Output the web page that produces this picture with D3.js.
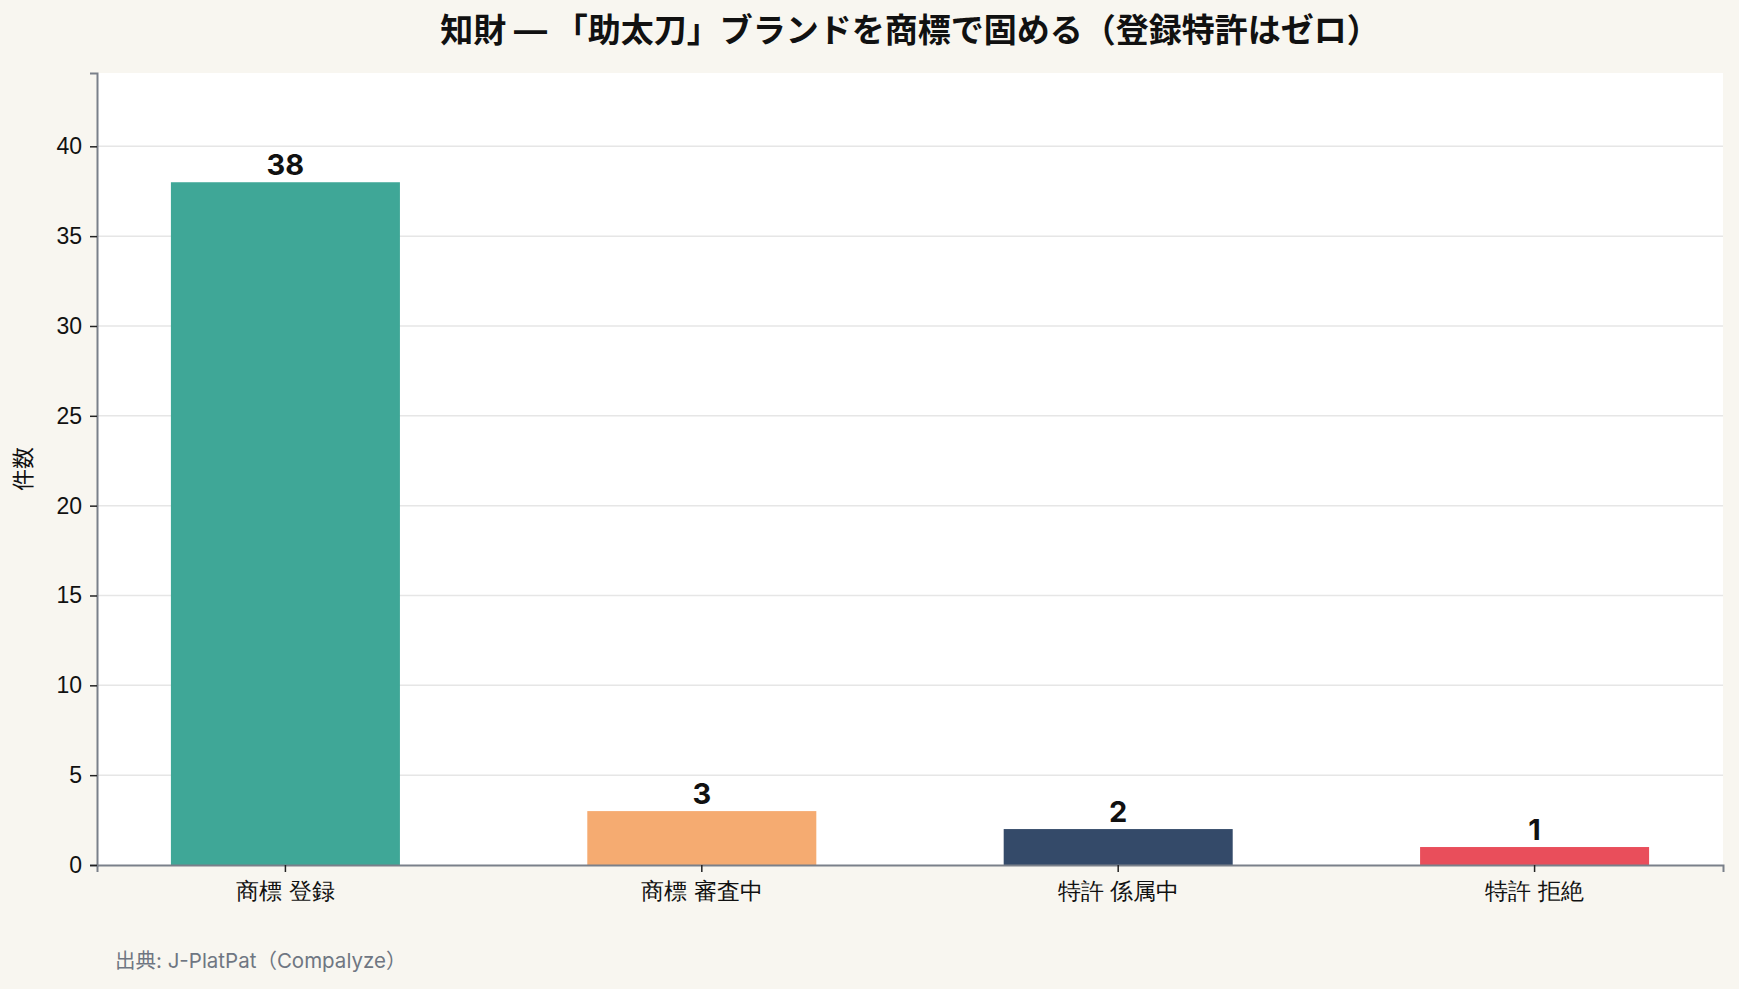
<!DOCTYPE html>
<html>
<head>
<meta charset="utf-8">
<script src="https://cdn.jsdelivr.net/npm/d3@7"></script>
<style>
  body { margin: 0; background: #f8f6f0; }
  svg { display: block; font-family: "Inter", "Noto Sans CJK JP", sans-serif; }
</style>
</head>
<body>
<div id="container"></div>
<script>
/* DATA */
const categories = ["商標 登録", "商標 審査中", "特許 係属中", "特許 拒絶"]
const counts = [38, 3, 2, 1]
const barColors = ["#3fa797", "#f5ab71", "#344a69", "#e94e5b"]
const yTicks = [0, 5, 10, 15, 20, 25, 30, 35, 40]

const title = "知財 — 「助太刀」ブランドを商標で固める（登録特許はゼロ）"
const yLabel = "件数"
const source = "出典: J-PlatPat（Compalyze）"

/* CONSTANTS */
const width = 1739,
  height = 989,
  margin = { top: 73, bottom: 124, left: 97, right: 16 }

const svg = d3.select("#container")
  .append("svg")
  .attr("width", width)
  .attr("height", height)

svg.append("rect")
  .attr("width", width)
  .attr("height", height)
  .attr("fill", "#f8f6f0")

//plot area
svg.append("rect")
  .attr("x", margin.left)
  .attr("y", margin.top)
  .attr("width", width - margin.left - margin.right)
  .attr("height", height - margin.top - margin.bottom)
  .attr("fill", "#ffffff")

//scales
const xScale = d3.scaleBand()
  .domain(categories)
  .range([margin.left, width - margin.right])
  .paddingInner(0.45)
  .paddingOuter(0.1775)

const yScale = d3.scaleLinear()
  .domain([0, 38 * 1.16])
  .range([height - margin.bottom, margin.top])

//grid
svg.append("g")
  .attr("class", "grid")
  .selectAll("line")
  .data(yTicks.filter(d => d > 0))
  .join("line")
  .attr("x1", margin.left)
  .attr("x2", width - margin.right)
  .attr("y1", d => yScale(d))
  .attr("y2", d => yScale(d))
  .attr("stroke", "#e6e6e6")
  .attr("stroke-width", 1.5)

//bars
svg.selectAll(".bar")
  .data(counts)
  .join("rect")
  .attr("class", "bar")
  .attr("x", (d, i) => xScale(categories[i]))
  .attr("y", d => yScale(d))
  .attr("width", xScale.bandwidth())
  .attr("height", d => yScale(0) - yScale(d))
  .attr("fill", (d, i) => barColors[i])

//value labels
svg.selectAll(".value")
  .data(counts)
  .join("text")
  .attr("class", "value")
  .attr("x", (d, i) => xScale(categories[i]) + xScale.bandwidth() / 2)
  .attr("y", d => yScale(d) - 7)
  .attr("text-anchor", "middle")
  .attr("font-size", "29px")
  .attr("font-weight", "bold")
  .attr("fill", "#111")
  .text(d => d)

//x-axis
const xAxis = d3.axisBottom(xScale).tickSize(7).tickPadding(11)
const gx = svg.append("g")
  .attr("class", "x-axis")
  .attr("transform", `translate(0, ${height - margin.bottom})`)
  .call(xAxis)
gx.select(".domain").attr("stroke", "#7a808a").attr("stroke-width", 2)
gx.selectAll(".tick line").attr("stroke", "#222").attr("stroke-width", 1.5)
gx.selectAll(".tick text")
  .attr("font-size", "23px")
  .attr("fill", "#111")
  .attr("font-family", null)

//y-axis
const yAxis = d3.axisLeft(yScale).tickValues(yTicks).tickSize(7).tickPadding(8)
const gy = svg.append("g")
  .attr("class", "y-axis")
  .attr("transform", `translate(${margin.left}, 0)`)
  .call(yAxis)
gy.select(".domain").attr("stroke", "#7a808a").attr("stroke-width", 2)
gy.selectAll(".tick line").attr("stroke", "#222").attr("stroke-width", 1.5)
gy.selectAll(".tick text")
  .attr("font-size", "23px")
  .attr("fill", "#111")
  .attr("font-family", null)

svg.append("text")
  .attr("class", "yAxisLabel")
  .attr("transform", `translate(31, ${(margin.top + height - margin.bottom) / 2}) rotate(-90)`)
  .attr("text-anchor", "middle")
  .attr("font-size", "22px")
  .attr("fill", "#111")
  .text(yLabel)

//title
svg.append("text")
  .attr("class", "title")
  .attr("x", (margin.left + width - margin.right) / 2)
  .attr("y", 42)
  .attr("text-anchor", "middle")
  .attr("font-size", "33px")
  .attr("font-weight", "bold")
  .attr("fill", "#111")
  .text(title)

//source
svg.append("text")
  .attr("class", "source")
  .attr("x", 115)
  .attr("y", 968)
  .attr("font-size", "20.5px")
  .attr("fill", "#6f7682")
  .text(source)
</script>
</body>
</html>
